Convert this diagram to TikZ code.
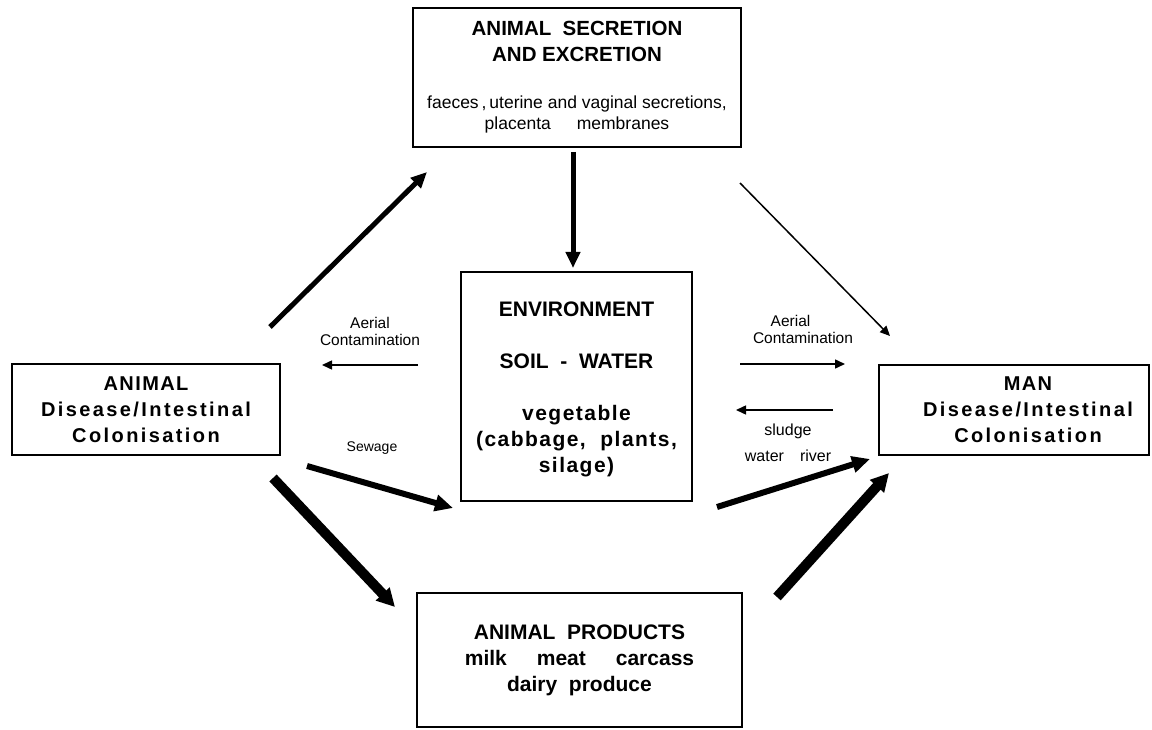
\documentclass[tikz,border=0pt]{standalone}
\usepackage{fontspec}
\setmainfont{Liberation Sans}
\newfontfamily\spc[LetterSpace=12]{Liberation Sans}
\newfontfamily\spcs[LetterSpace=7]{Liberation Sans}
\usetikzlibrary{arrows.meta}
\begin{document}
\begin{tikzpicture}[x=1pt,y=-1pt,
  box/.style={draw,line width=2.5pt,align=center,inner sep=0pt,
    font=\fontsize{20}{26}\selectfont\bfseries},
  lbl/.style={align=center,inner sep=0pt,font=\fontsize{15.5}{17}\selectfont},
  thin/.style={line width=1.5pt,-{Triangle[length=10pt,width=9pt]}},
  mid/.style={line width=5pt,-{Triangle[length=16pt,width=14pt]}},
  midb/.style={line width=6pt,-{Triangle[length=18pt,width=16pt]}},
  heavy/.style={line width=10pt,-{Triangle[length=18pt,width=18pt]}}]
\useasboundingbox (0,0) rectangle (1152,730);
% boxes
\node[box,minimum width=328pt,minimum height=139pt,
  font=\fontsize{20.5}{26}\selectfont\bfseries] (top) at (577,77.5)
  {ANIMAL\ \ SECRETION\\AND EXCRETION\\[21pt]
   {\fontsize{17.5}{21}\selectfont\mdseries faeces\,,\,uterine and vaginal secretions,}\\[-5pt]
   {\fontsize{17.5}{21}\selectfont\mdseries placenta\hspace{26pt}membranes}};
\node[box,minimum width=268pt,minimum height=91pt] (animal) at (146,409.5)
  {{\spcs ANIMAL}\\{\spc Disease/Intestinal}\\{\spc Colonisation}};
\node[box,minimum width=270pt,minimum height=90pt,
  label={[font=\fontsize{20}{26}\selectfont\bfseries,align=center,xshift=14pt]center:{{\spcs MAN}\\{\spc Disease/Intestinal}\\{\spc Colonisation}}}] (man) at (1014,410) {};
\node[box,minimum width=231pt,minimum height=229pt,font=\fontsize{21}{26}\selectfont\bfseries] (env) at (576.5,386.5)
  {\rule{0pt}{21pt}ENVIRONMENT\\[26pt]SOIL\ \ -\ \ WATER\\[26pt]{\spcs vegetable}\\{\spcs (cabbage,\ \ plants,}\\{\spcs silage)}};
\node[box,minimum width=325pt,minimum height=134pt,font=\fontsize{21}{26}\selectfont\bfseries] (prod) at (579.5,660)
  {ANIMAL\ \ PRODUCTS\\milk\hspace{30pt}meat\hspace{30pt}carcass\\dairy\ \ produce};
% labels
\node[lbl] (aerL) at (370,331) {Aerial\\Contamination};
\node[lbl] (aerR) at (803,329) {Aerial\hspace*{25pt}\\Contamination};
\node[lbl,font=\fontsize{16}{26}\selectfont] (sludge) at (788,443) {sludge\\water\hspace{16pt}river};
\node[lbl,font=\fontsize{14}{17}\selectfont] (sewage) at (372,448) {Sewage};
% connector end points
\coordinate (t2e-a) at (573,152);   \coordinate (t2e-b) at (573,268);
\coordinate (a2t-a) at (270,327);   \coordinate (a2t-b) at (427,172);
\coordinate (t2m-a) at (740,183);   \coordinate (t2m-b) at (890,336);
\coordinate (e2a-a) at (418,365);   \coordinate (e2a-b) at (322,365);
\coordinate (e2m-a) at (740,364);   \coordinate (e2m-b) at (845,364);
\coordinate (m2e-a) at (833,410);   \coordinate (m2e-b) at (736,410);
\coordinate (a2e-a) at (307,466);   \coordinate (a2e-b) at (453,508);
\coordinate (e2w-a) at (717,507);   \coordinate (e2w-b) at (870,459);
\coordinate (a2p-a) at (273,478);   \coordinate (a2p-b) at (395,607);
\coordinate (p2m-a) at (777,597);   \coordinate (p2m-b) at (889,473);
% connectors
\draw[mid] (t2e-a) -- (t2e-b);
\draw[mid] (a2t-a) -- (a2t-b);
\draw[thin] (t2m-a) -- (t2m-b);
\draw[thin] (e2a-a) -- (e2a-b);
\draw[thin] (e2m-a) -- (e2m-b);
\draw[thin] (m2e-a) -- (m2e-b);
\draw[midb] (a2e-a) -- (a2e-b);
\draw[midb] (e2w-a) -- (e2w-b);
\draw[heavy] (a2p-a) -- (a2p-b);
\draw[heavy] (p2m-a) -- (p2m-b);
\end{tikzpicture}
\end{document}
